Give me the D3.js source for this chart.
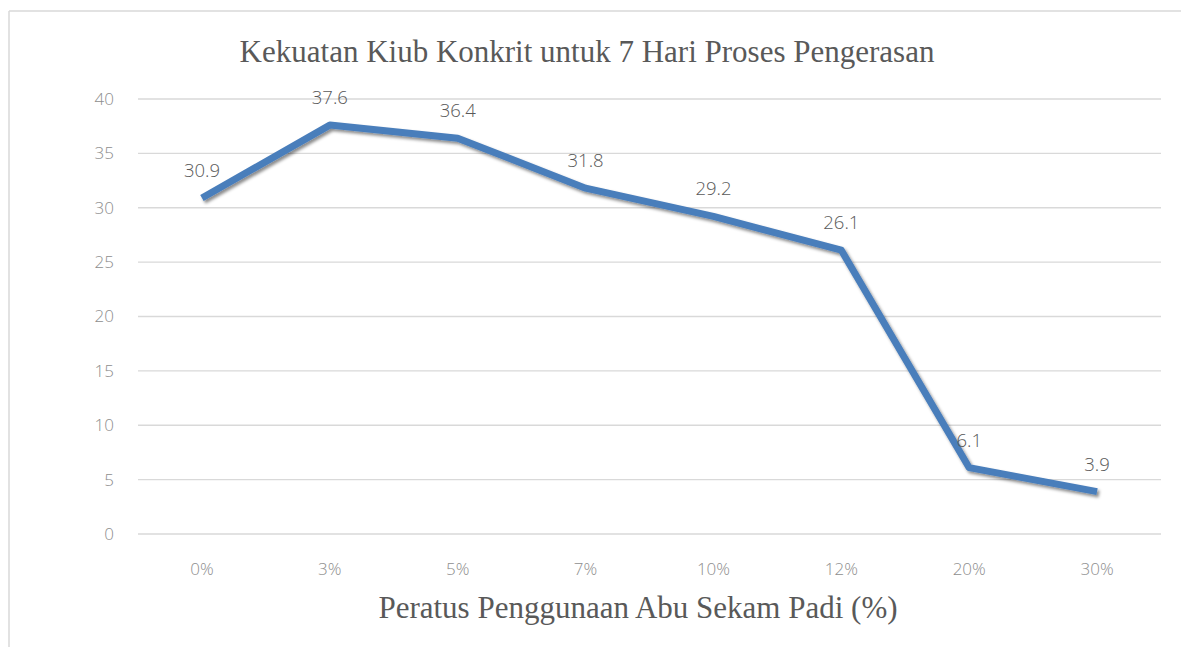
<!DOCTYPE html>
<html>
<head>
<meta charset="utf-8">
<script src="https://cdn.jsdelivr.net/npm/d3@7"></script>
<style>
body { margin: 0; background: #fff; }
svg { display: block; }
.tick text { font-family: "Open Sans", sans-serif; font-size: 17px; font-weight: 300; fill: #8e8e8e; }
.label { font-family: "Open Sans", sans-serif; font-size: 18.5px; font-weight: 300; fill: #595959; }
.title { font-family: "Liberation Serif", "Times New Roman", serif; font-size: 31px; fill: #595959; }
</style>
</head>
<body>
<div id="chart"></div>
<script>
// data
var categories = ["0%", "3%", "5%", "7%", "10%", "12%", "20%", "30%"];
var strength = [30.9, 37.6, 36.4, 31.8, 29.2, 26.1, 6.1, 3.9];
var yTicks = [0, 5, 10, 15, 20, 25, 30, 35, 40];

var W = 1181, H = 647;
var margin = { top: 99, right: 20, bottom: 113, left: 138 };
var width = 1161 - margin.left;
var height = 534 - margin.top;

var svg = d3.select("#chart").append("svg")
	.attr("width", W)
	.attr("height", H);

// frame (only top & left visible)
svg.append("line").attr("x1", 9).attr("x2", W).attr("y1", 11).attr("y2", 11)
	.style("stroke", "#d9d9d9").style("stroke-width", 1.5);
svg.append("line").attr("x1", 9).attr("x2", 9).attr("y1", 11).attr("y2", H)
	.style("stroke", "#d9d9d9").style("stroke-width", 1.5);

var defs = svg.append("defs");
var filt = defs.append("filter").attr("id", "shadow")
	.attr("x", "-10%").attr("y", "-10%").attr("width", "120%").attr("height", "130%");
filt.append("feDropShadow")
	.attr("dx", 2).attr("dy", 2.5).attr("stdDeviation", 1.8)
	.attr("flood-color", "#000").attr("flood-opacity", 0.45);

var g = svg.append("g")
	.attr("transform", "translate(" + margin.left + "," + margin.top + ")");

var x = d3.scaleBand().domain(categories).range([0, width]);
var y = d3.scaleLinear().domain([0, 40]).range([height, 0]);

// gridlines
g.append("g")
	.selectAll("line")
	.data(yTicks)
	.enter().append("line")
	.attr("x1", 0)
	.attr("x2", width)
	.attr("y1", d => y(d))
	.attr("y2", d => y(d))
	.style("stroke", "#d9d9d9")
	.style("stroke-width", 1.3);

// y axis
var yAxis = g.append("g")
	.call(d3.axisLeft(y).tickValues(yTicks).tickSize(0).tickPadding(24));
yAxis.select(".domain").remove();

// x axis
var xAxis = g.append("g")
	.attr("transform", "translate(0," + height + ")")
	.call(d3.axisBottom(x).tickSize(0).tickPadding(29));
xAxis.select(".domain").remove();

// line
var line = d3.line()
	.x((d, i) => x(categories[i]) + x.bandwidth() / 2)
	.y(d => y(d));

g.append("path")
	.datum(strength)
	.attr("d", line)
	.attr("filter", "url(#shadow)")
	.style("fill", "none")
	.style("stroke", "#4a7ebb")
	.style("stroke-width", 7)
	.style("stroke-linejoin", "round");

// data labels
g.selectAll(".label")
	.data(strength)
	.enter().append("text")
	.attr("class", "label")
	.attr("x", (d, i) => x(categories[i]) + x.bandwidth() / 2)
	.attr("y", d => y(d) - 21)
	.style("text-anchor", "middle")
	.text(d => d.toFixed(1));

// titles
svg.append("text")
	.attr("class", "title")
	.attr("x", 587)
	.attr("y", 62)
	.style("text-anchor", "middle")
	.text("Kekuatan Kiub Konkrit untuk 7 Hari Proses Pengerasan");

svg.append("text")
	.attr("class", "title")
	.attr("x", 638)
	.attr("y", 618)
	.style("text-anchor", "middle")
	.text("Peratus Penggunaan Abu Sekam Padi (%)");
</script>
</body>
</html>
